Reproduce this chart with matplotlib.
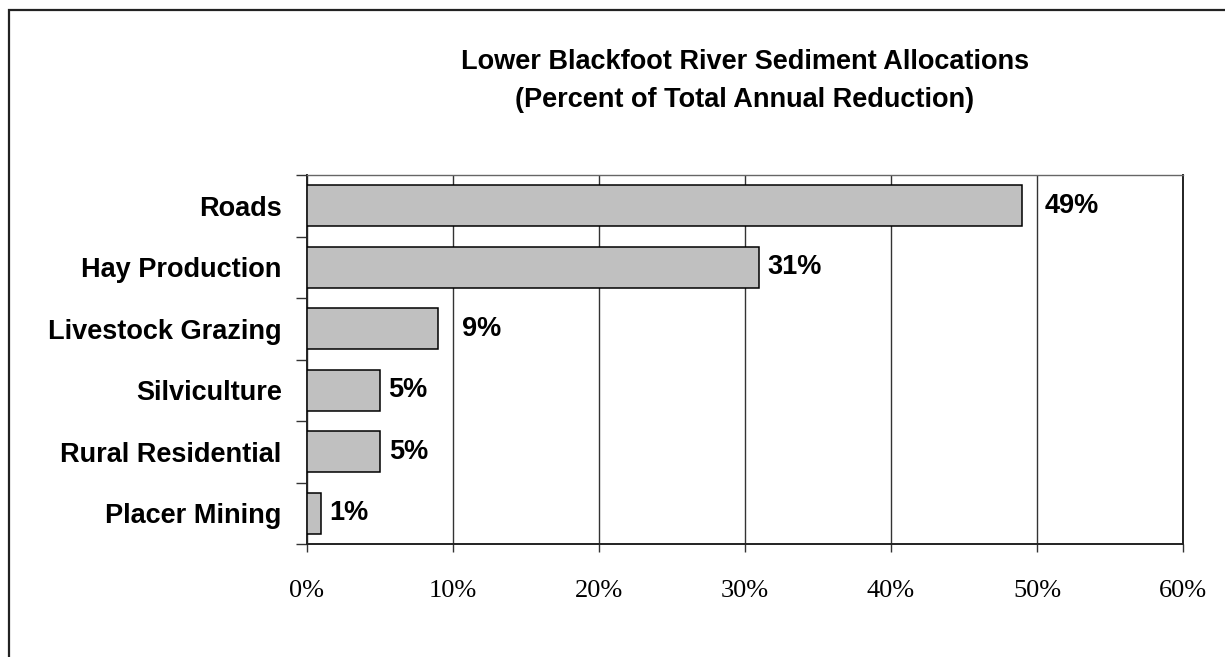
import matplotlib.pyplot as plt
from matplotlib.patches import Rectangle
from matplotlib.ticker import FixedLocator

categories = ['Roads', 'Hay Production', 'Livestock Grazing', 'Silviculture',
              'Rural Residential', 'Placer Mining']
percent = [49, 31, 9, 5, 5, 1]
value_labels = ['49%', '31%', '9%', '5%', '5%', '1%']
label_pad = [16, 6, 17, 6, 7, 6]  # points right of each bar end
x_ticks = [0, 10, 20, 30, 40, 50, 60]
x_tick_labels = ['0%', '10%', '20%', '30%', '40%', '50%', '60%']

sans = ['Liberation Sans', 'DejaVu Sans']
serif = ['Liberation Serif', 'DejaVu Serif']

fig = plt.figure(figsize=(12.25, 6.57), dpi=100)
ax = fig.add_axes([0.2504, 0.172, 0.7153, 0.5616])

# outer chart frame, open on the right and bottom
fig.patches.append(Rectangle((9 / 1225, -0.1), 1.2, 1 - 10 / 657 + 0.1,
                             transform=fig.transFigure, fill=False,
                             edgecolor='#222222', linewidth=1.6))

ypos = list(range(len(categories)))
ax.barh(ypos, percent, height=0.67, color='#c0c0c0', edgecolor='black',
        linewidth=1.1, zorder=3)

for y, v, lab, pad in zip(ypos, percent, value_labels, label_pad):
    ax.annotate(lab, (v, y), xytext=(pad, 0), textcoords='offset points',
                ha='left', va='center', fontsize=19.5, fontweight='bold',
                family=sans)

ax.set_xlim(0, 60)
ax.set_ylim(len(categories) - 0.5, -0.5)
ax.set_xticks(x_ticks)
ax.set_xticklabels(x_tick_labels, family=serif, fontsize=19)
ax.tick_params(axis='x', direction='out', length=6, width=1, pad=20,
               color='#333333')

# category names centred on bars, tick marks on the boundaries
ax.set_yticks(ypos)
ax.set_yticklabels(categories, family=sans, fontsize=19.5, fontweight='bold')
ax.tick_params(axis='y', which='major', length=0, pad=18)
ax.yaxis.set_minor_locator(FixedLocator([y - 0.5 for y in range(len(categories) + 1)]))
ax.tick_params(axis='y', which='minor', direction='out', length=8, width=1,
               color='#333333')

ax.grid(axis='x', color='#333333', linewidth=1.0, zorder=0)
ax.set_axisbelow(True)
for side in ['left', 'bottom', 'right']:
    ax.spines[side].set_color('#222222')
    ax.spines[side].set_linewidth(1.4)
ax.spines['top'].set_color('#666666')
ax.spines['top'].set_linewidth(1.0)

fig.text(0.6082, 1 - 62 / 657, 'Lower Blackfoot River Sediment Allocations',
         ha='center', va='center', fontsize=19.5, fontweight='bold', family=sans)
fig.text(0.6082, 1 - 100 / 657, '(Percent of Total Annual Reduction)',
         ha='center', va='center', fontsize=19.5, fontweight='bold', family=sans)

fig.savefig('out.png', dpi=100)
